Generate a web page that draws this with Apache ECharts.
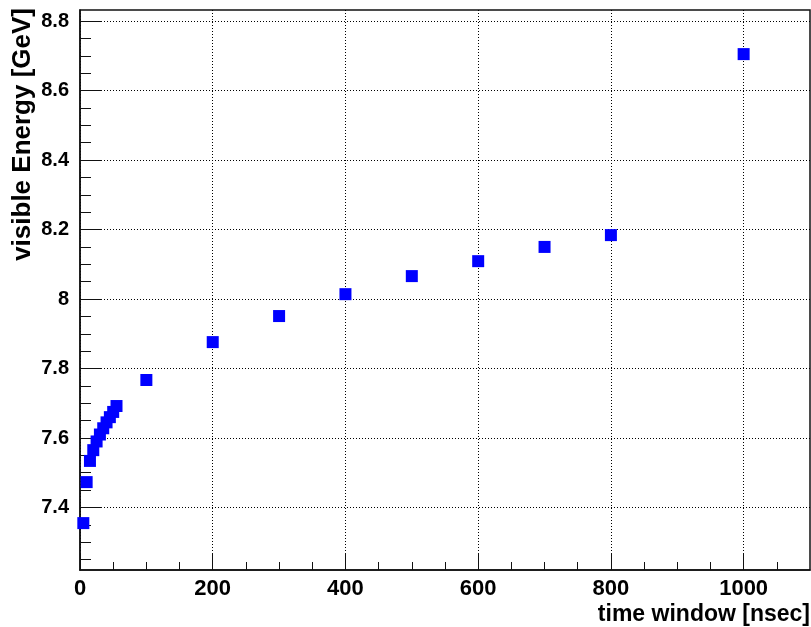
<!DOCTYPE html>
<html><head><meta charset="utf-8">
<script src="https://cdn.jsdelivr.net/npm/echarts@6/dist/echarts.min.js"></script>
<style>html,body{margin:0;padding:0;background:#fff}#c{width:811px;height:627px}</style>
</head><body><div id="c"></div>
<script>
const timeWindow = [5, 10, 15, 20, 25, 30, 35, 40, 45, 50, 55, 100, 200, 300, 400, 500, 600, 700, 800, 1000];
const visibleEnergy = [7.355, 7.473, 7.534, 7.565, 7.59, 7.61, 7.628, 7.645, 7.66, 7.675, 7.692, 7.767, 7.876, 7.951, 8.014, 8.066, 8.109, 8.150, 8.184, 8.705];
const xMajorTicks = [0, 200, 400, 600, 800, 1000];
const xMinorTicks = [50, 100, 150, 250, 300, 350, 450, 500, 550, 650, 700, 750, 850, 900, 950, 1050];
const yMajorTicks = [7.4, 7.6, 7.8, 8.0, 8.2, 8.4, 8.6, 8.8];
const yMinorTicks = [7.25, 7.3, 7.35, 7.45, 7.5, 7.55, 7.65, 7.7, 7.75, 7.85, 7.9, 7.95, 8.05, 8.1, 8.15, 8.25, 8.3, 8.35, 8.45, 8.5, 8.55, 8.65, 8.7, 8.75];
const xTitle = 'time window [nsec]';
const yTitle = 'visible Energy [GeV]';

const FONT = "'Liberation Sans', Arial, Helvetica, sans-serif";
const X_MIN = 0, X_MAX = 1100, Y_MIN = 7.22, Y_MAX = 8.832;

const chart = echarts.init(document.getElementById('c'), null, {renderer: 'canvas'});
const dotted = {show: true, lineStyle: {color: '#000', width: 1, type: [1, 2]}};
chart.setOption({
  animation: false,
  backgroundColor: '#fff',
  grid: {left: 80, right: 1, top: 10, bottom: 57, show: true, borderColor: '#111', borderWidth: 1.5, backgroundColor: 'transparent'},
  xAxis: [
    {
      type: 'value', min: X_MIN, max: X_MAX, position: 'bottom',
      axisLine: {show: true, onZero: false, lineStyle: {color: '#111', width: 1.5}},
      axisTick: {show: true, inside: true, length: 17, customValues: xMajorTicks, lineStyle: {color: '#111', width: 1}},
      axisLabel: {show: true, customValues: xMajorTicks, margin: 8, fontFamily: FONT, fontWeight: 'bold', fontSize: 22, color: '#000',
        formatter: v => String(Math.round(v))},
      splitLine: dotted
    },
    {
      type: 'value', min: X_MIN, max: X_MAX, position: 'bottom',
      axisLine: {show: false},
      axisTick: {show: true, inside: true, length: 8, customValues: xMinorTicks, lineStyle: {color: '#111', width: 1}},
      axisLabel: {show: false},
      splitLine: {show: false}
    }
  ],
  yAxis: [
    {
      type: 'value', min: Y_MIN, max: Y_MAX, position: 'left',
      axisLine: {show: true, onZero: false, lineStyle: {color: '#111', width: 1.5}},
      axisTick: {show: true, inside: true, length: 22, customValues: yMajorTicks, lineStyle: {color: '#111', width: 1}},
      axisLabel: {show: true, customValues: yMajorTicks, margin: 11, fontFamily: FONT, fontWeight: 'bold', fontSize: 20, color: '#000',
        formatter: v => String(Math.round(v * 10) / 10)},
      splitLine: dotted
    },
    {
      type: 'value', min: Y_MIN, max: Y_MAX, position: 'left',
      axisLine: {show: false},
      axisTick: {show: true, inside: true, length: 11, customValues: yMinorTicks, lineStyle: {color: '#111', width: 1}},
      axisLabel: {show: false},
      splitLine: {show: false}
    }
  ],
  graphic: [
    {type: 'text', x: 810, y: 615, style: {text: xTitle, font: "bold 23px " + FONT, fill: '#000', textAlign: 'right', textVerticalAlign: 'middle'}},
    {type: 'text', x: 23, y: 8, rotation: Math.PI / 2, style: {text: yTitle, font: "bold 26px " + FONT, fill: '#000', textAlign: 'right', textVerticalAlign: 'middle'}}
  ],
  series: [{
    type: 'scatter', xAxisIndex: 0, yAxisIndex: 0,
    symbol: 'rect', symbolSize: 12,
    itemStyle: {color: '#0000ff', opacity: 1},
    data: timeWindow.map((t, i) => [t, visibleEnergy[i]])
  }]
});
</script>
</body></html>
